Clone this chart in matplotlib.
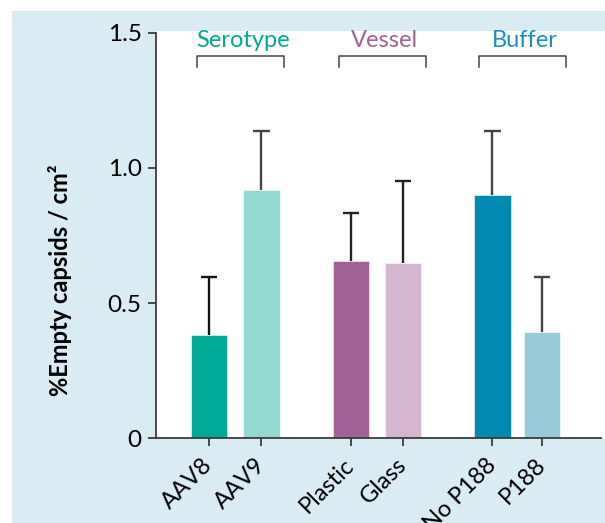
import matplotlib
matplotlib.use("Agg")
import matplotlib.pyplot as plt
from matplotlib.patches import Rectangle

plt.rcParams['font.family'] = ['Lato', 'DejaVu Sans']

# Data
categories = ["AAV8", "AAV9", "Plastic", "Glass", "No P188", "P188"]
means = [0.382, 0.918, 0.654, 0.649, 0.899, 0.393]
upper_err = [0.216, 0.217, 0.181, 0.301, 0.236, 0.205]
groups = ["Serotype", "Vessel", "Buffer"]
group_members = [(0, 1), (2, 3), (4, 5)]
yticks = [0, 0.5, 1.0, 1.5]
ytick_labels = ["0", "0.5", "1.0", "1.5"]

# Styling
bar_colors = ["#00a896", "#93d9cf", "#a06296", "#d4b5cf", "#0089b2", "#98cadb"]
err_colors = ["#111111", "#444444", "#222222", "#222222", "#444444", "#444444"]
group_colors = ["#00a896", "#a06296", "#1a8fbf"]
positions = [0, 1, 2.7, 3.7, 5.4, 6.35]
bg_blue = "#d9ebf3"
spine_col = "#3a3a3a"

W, H = 605, 523
fig = plt.figure(figsize=(W / 100, H / 100), dpi=100)
fig.patch.set_facecolor("white")

# Light blue panel behind everything
fig.patches.append(Rectangle((12 / W, 0), 1 - 12 / W, (H - 11) / H,
                             transform=fig.transFigure, facecolor=bg_blue,
                             edgecolor="none", zorder=-10))
# White plotting field
ax_l, ax_r = 155.6 / W, 601 / W
ax_b, ax_t = (H - 438.3) / H, (H - 32.7) / H
fig.patches.append(Rectangle((ax_l, ax_b), 1 - ax_l, (H - 31) / H - ax_b,
                             transform=fig.transFigure, facecolor="white",
                             edgecolor="none", zorder=-9))

ax = fig.add_axes([ax_l, ax_b, ax_r - ax_l, ax_t - ax_b])
ax.set_facecolor("none")

ax.bar(positions, means, width=0.69, color=bar_colors,
       edgecolor="white", linewidth=0.4, zorder=2)

# Upper-only error bars with a cap at the top end
cap_half = 0.155
for x, m, e, c in zip(positions, means, upper_err, err_colors):
    ax.vlines(x, m, m + e, color=c, lw=1.7, zorder=1)
    ax.hlines(m + e, x - cap_half, x + cap_half, color=c, lw=1.7, zorder=1)

ax.set_xlim(-1.017, 7.467)
ax.set_ylim(0, 1.5)
ax.set_yticks(yticks)
ax.set_yticklabels(ytick_labels)
ax.set_xticks(positions)
ax.set_xticklabels(categories, rotation=45, ha="right", va="center",
                   rotation_mode="anchor")

for s in ("top", "right"):
    ax.spines[s].set_visible(False)
for s in ("left", "bottom"):
    ax.spines[s].set_color(spine_col)
    ax.spines[s].set_linewidth(1.3)

ax.tick_params(axis="both", colors=spine_col, width=1.3, length=6,
               labelcolor="black", labelsize=17.5)
ax.tick_params(axis="x", pad=11, labelsize=17)
ax.tick_params(axis="y", pad=4)

ax.set_ylabel("%Empty capsids / cm²", fontsize=17, fontweight="bold")
ax.yaxis.set_label_coords(-0.188, 0.39)

# Group brackets and titles
for name, (i, j), col in zip(groups, group_members, group_colors):
    mid = (positions[i] + positions[j]) / 2 + 0.1
    half = 0.83
    ax.plot([mid - half, mid - half, mid + half, mid + half],
            [1.375, 1.412, 1.412, 1.375], color="#444444", lw=1.1,
            clip_on=False, zorder=3)
    ax.text(mid + 0.05, 1.473, name, color=col, fontsize=17,
            ha="center", va="center")

fig.savefig("out.png", dpi=100)
